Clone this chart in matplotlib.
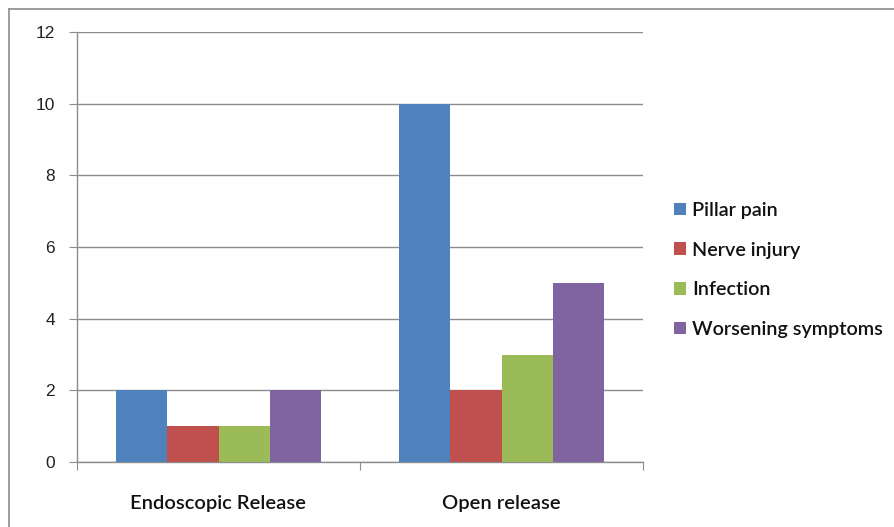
import matplotlib
matplotlib.use("Agg")
import matplotlib.pyplot as plt
from matplotlib.lines import Line2D
import numpy as np

categories = ["Endoscopic Release", "Open release"]
series_names = ["Pillar pain", "Nerve injury", "Infection", "Worsening symptoms"]
pillar_pain = [2, 10]
nerve_injury = [1, 2]
infection = [1, 3]
worsening = [2, 5]
y_ticks = [0, 2, 4, 6, 8, 10, 12]

colors = ["#4F81BD", "#C0504D", "#9BBB59", "#8064A2"]
values = [pillar_pain, nerve_injury, infection, worsening]

fig = plt.figure(figsize=(8.94, 5.27), dpi=100)
fig.patch.set_facecolor("white")
# outer chart border (only top and left visible in the cropped reference)
fig.add_artist(Line2D([9/894, 1.0], [1 - 9/527, 1 - 9/527], transform=fig.transFigure,
                      color="#8C8C8C", linewidth=1.2))
fig.add_artist(Line2D([9/894, 9/894], [0.0, 1 - 9/527], transform=fig.transFigure,
                      color="#8C8C8C", linewidth=1.2))

ax = fig.add_axes([77/894, 1 - 462/527, 566/894, 430/527])
x = np.arange(len(categories))
bw = 0.181
for i, (name, vals, c) in enumerate(zip(series_names, values, colors)):
    ax.bar(x + (i - 1.5) * bw, vals, width=bw, color=c, label=name, zorder=3, linewidth=0)

ax.set_xlim(-0.5, 1.5)
ax.set_ylim(0, 12)
ax.set_yticks(y_ticks)
ax.set_yticklabels([str(v) for v in y_ticks], fontfamily="Liberation Sans", fontsize=12.5, color="#222222")
ax.yaxis.grid(True, color="#8C8C8C", linewidth=1.0, zorder=0)
ax.set_axisbelow(True)
ax.tick_params(axis="y", length=6, color="#8C8C8C", pad=10)

ax.set_xticks([-0.5, 0.5, 1.5])
ax.set_xticklabels([])
ax.tick_params(axis="x", length=6, color="#8C8C8C")
ax.set_xticks(x, minor=True)
ax.set_xticklabels(categories, minor=True, fontfamily="Lato", fontweight="semibold",
                   fontsize=14.5, color="#111111")
ax.tick_params(axis="x", which="minor", length=0, pad=24)

for s in ["top", "right"]:
    ax.spines[s].set_visible(False)
for s in ["left", "bottom"]:
    ax.spines[s].set_color("#8C8C8C")
    ax.spines[s].set_linewidth(1.0)

handles, labels = ax.get_legend_handles_labels()
leg = fig.legend(handles, labels, loc="upper left", bbox_to_anchor=(674/894, 1 - 202/527),
                 frameon=False, prop={"family": "Lato", "size": 14.2, "weight": "semibold"},
                 handlelength=0.62, handleheight=0.62, handletextpad=0.3, labelspacing=1.15,
                 borderaxespad=0, borderpad=0)
for t in leg.get_texts():
    t.set_color("#111111")

fig.savefig("out.png", dpi=100)
